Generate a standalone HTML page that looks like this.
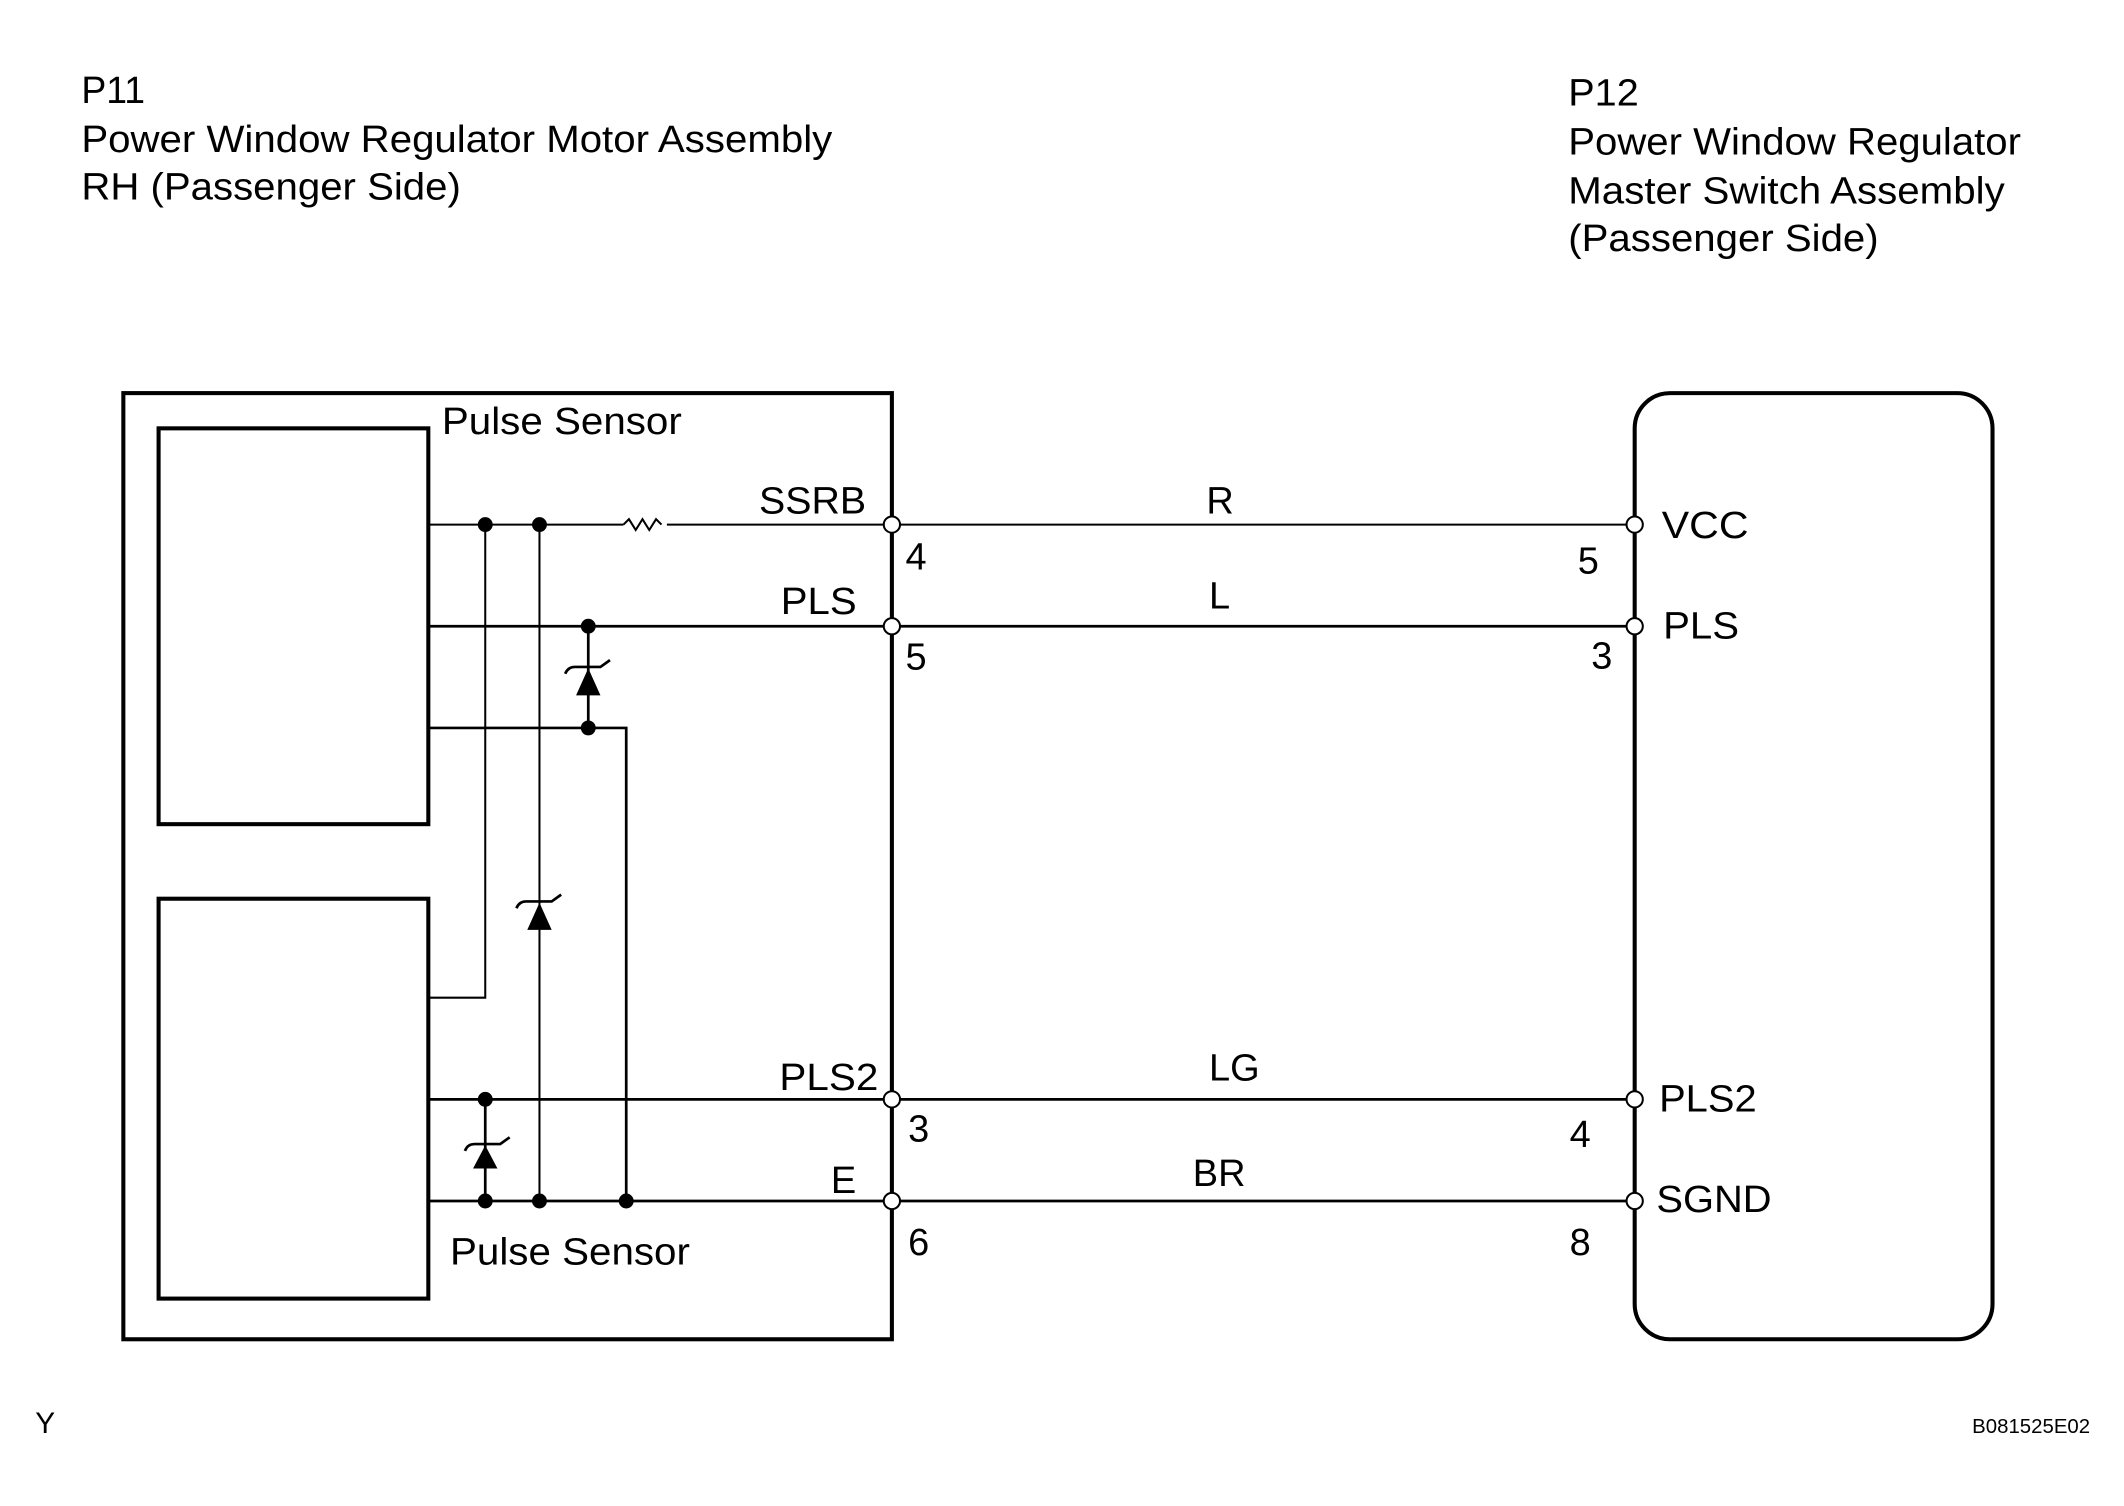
<!DOCTYPE html>
<html><head><style>html,body{margin:0;padding:0;background:#fff}svg{display:block}</style></head><body>
<svg width="2124" height="1506" viewBox="0 0 1567 1111" preserveAspectRatio="none" xmlns="http://www.w3.org/2000/svg" font-family="Liberation Sans, Arial, sans-serif">
<g font-size="28" fill="#000">
<text x="60" y="76" textLength="47" lengthAdjust="spacingAndGlyphs">P11</text>
<text x="60" y="112" textLength="554" lengthAdjust="spacingAndGlyphs">Power Window Regulator Motor Assembly</text>
<text x="60" y="147" textLength="280" lengthAdjust="spacingAndGlyphs">RH (Passenger Side)</text>
<text x="1157" y="78" textLength="52" lengthAdjust="spacingAndGlyphs">P12</text>
<text x="1157" y="114" textLength="334" lengthAdjust="spacingAndGlyphs">Power Window Regulator</text>
<text x="1157" y="150" textLength="322" lengthAdjust="spacingAndGlyphs">Master Switch Assembly</text>
<text x="1157" y="185" textLength="229" lengthAdjust="spacingAndGlyphs">(Passenger Side)</text>
<text x="326" y="320" textLength="177" lengthAdjust="spacingAndGlyphs">Pulse Sensor</text>
<text x="332" y="933" textLength="177" lengthAdjust="spacingAndGlyphs">Pulse Sensor</text>
<text x="560" y="379" textLength="79" lengthAdjust="spacingAndGlyphs">SSRB</text>
<text x="576" y="453" textLength="56" lengthAdjust="spacingAndGlyphs">PLS</text>
<text x="575" y="804" textLength="73" lengthAdjust="spacingAndGlyphs">PLS2</text>
<text x="613" y="880">E</text>
<text x="668" y="420">4</text>
<text x="668" y="494">5</text>
<text x="670" y="842">3</text>
<text x="670" y="926">6</text>
<text x="890" y="379">R</text>
<text x="892" y="449">L</text>
<text x="892" y="797">LG</text>
<text x="880" y="875">BR</text>
<text x="1164" y="423">5</text>
<text x="1174" y="493">3</text>
<text x="1158" y="846">4</text>
<text x="1158" y="926">8</text>
<text x="1226" y="397" textLength="64" lengthAdjust="spacingAndGlyphs">VCC</text>
<text x="1227" y="471" textLength="56" lengthAdjust="spacingAndGlyphs">PLS</text>
<text x="1224" y="820" textLength="72" lengthAdjust="spacingAndGlyphs">PLS2</text>
<text x="1222" y="894" textLength="85" lengthAdjust="spacingAndGlyphs">SGND</text>
<text x="26" y="1057" font-size="22">Y</text>
<text x="1455" y="1057" font-size="15" textLength="87" lengthAdjust="spacingAndGlyphs">B081525E02</text>
</g>
<g fill="none" stroke="#000">
<rect x="91" y="290" width="567" height="698" stroke-width="3"/>
<rect x="117" y="316" width="199" height="292" stroke-width="3"/>
<rect x="117" y="663" width="199" height="295" stroke-width="3"/>
<rect x="1206" y="290" width="264" height="698" rx="26" stroke-width="3"/>
<g stroke-width="1.5">
<path d="M316 387 H460 M492 387 H658"/>
<path d="M460 387 l4 -4 l5 8 l5 -8 l5 8 l5 -8 l4 4" />
<path d="M658 387 H1206"/>
<path d="M358 387 V736 H316"/>
<path d="M398 387 V886"/>
</g>
<g stroke-width="2">
<path d="M316 462 H1206"/>
<path d="M434 462 V537"/>
<path d="M316 537 H462 V886"/>
<path d="M316 811 H1206"/>
<path d="M358 811 V886"/>
<path d="M316 886 H1206"/>
<path d="M417 497 Q419 492 424 492 H443 L450 487"/>
<path d="M381 670 Q383 665 388 665 H407 L414 660"/>
<path d="M343 849 Q345 844 350 844 H369 L376 839"/>
</g>
</g>
<g fill="#000">
<path d="M434 493 L425 513 H443 Z"/>
<path d="M398 666 L389 686 H407 Z"/>
<path d="M358 845 L349 862 H367 Z"/>
<circle cx="358" cy="387" r="5.5"/><circle cx="398" cy="387" r="5.5"/>
<circle cx="434" cy="462" r="5.5"/><circle cx="434" cy="537" r="5.5"/>
<circle cx="358" cy="811" r="5.5"/>
<circle cx="358" cy="886" r="5.5"/><circle cx="398" cy="886" r="5.5"/><circle cx="462" cy="886" r="5.5"/>
</g>
<g fill="#fff" stroke="#000" stroke-width="1.5">
<circle cx="658" cy="387" r="6"/><circle cx="658" cy="462" r="6"/><circle cx="658" cy="811" r="6"/><circle cx="658" cy="886" r="6"/>
<circle cx="1206" cy="387" r="6"/><circle cx="1206" cy="462" r="6"/><circle cx="1206" cy="811" r="6"/><circle cx="1206" cy="886" r="6"/>
</g>
</svg>
</body></html>
